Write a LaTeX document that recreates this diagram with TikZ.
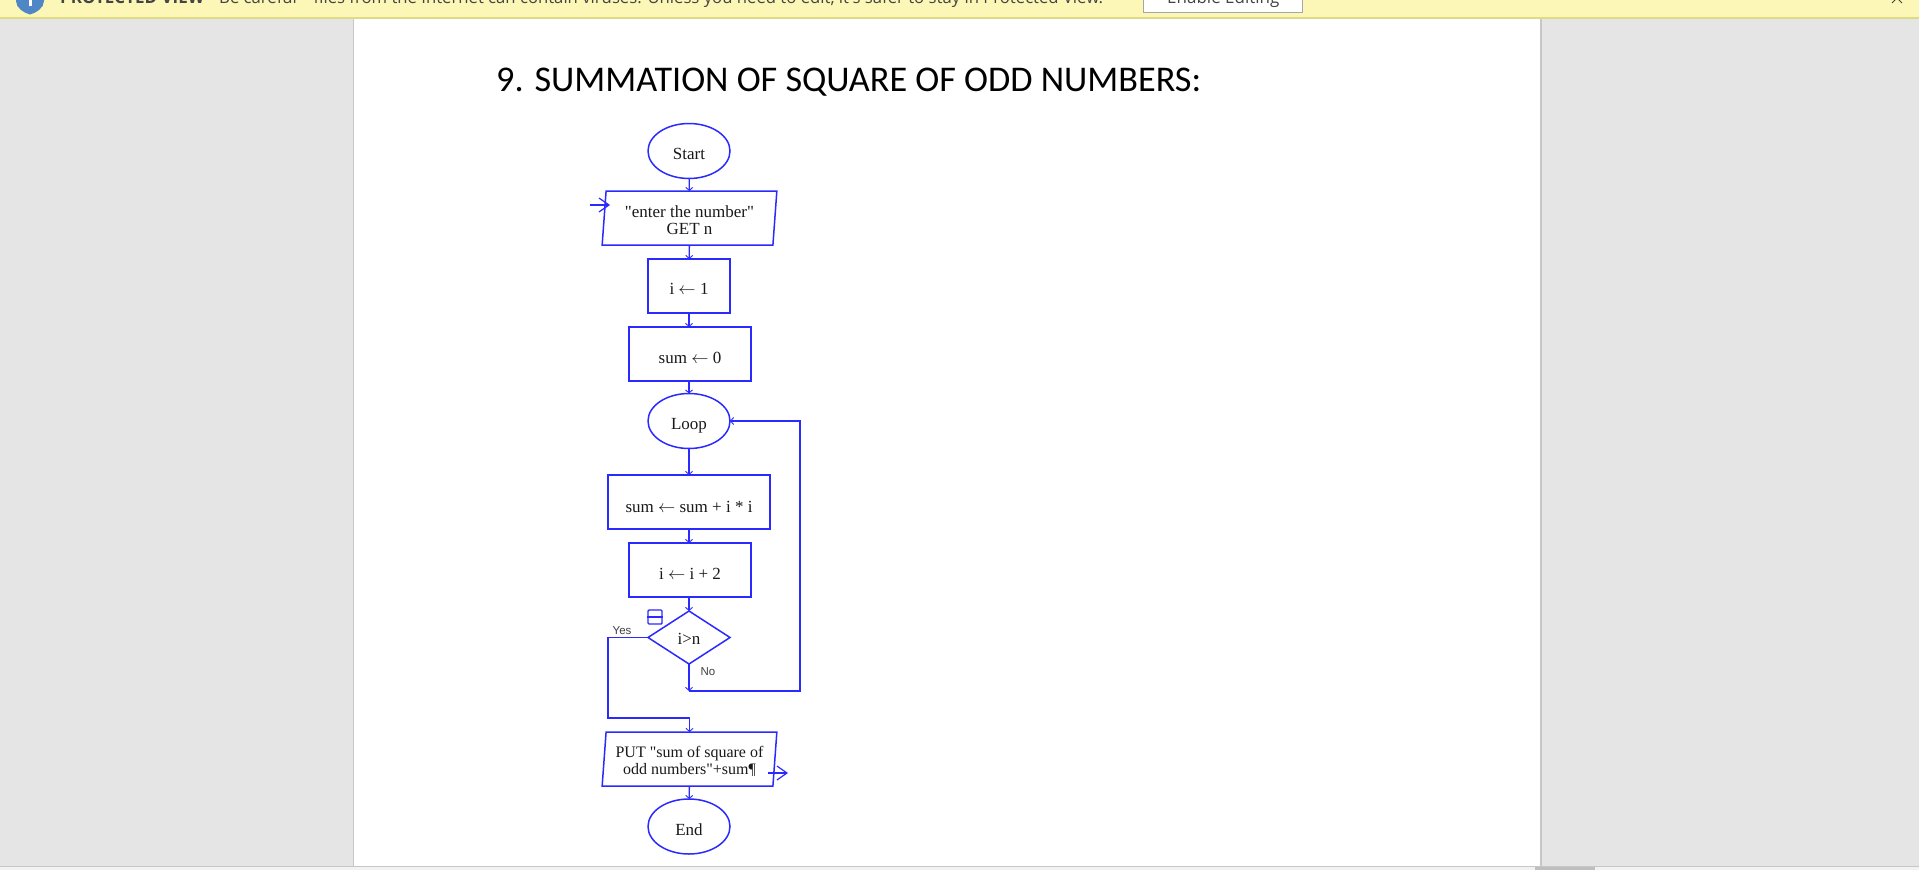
\documentclass[tikz,border=0pt]{standalone}
\usepackage{fontspec}
\newfontfamily\flowfont{Liberation Serif}
\newfontfamily\titlefont{Carlito}
\newfontfamily\uifont{Open Sans}
\newfontfamily\labelfont{Liberation Sans}
\usetikzlibrary{shapes.geometric,arrows.meta}
\definecolor{fc}{HTML}{2A2AFF}
\definecolor{pagegray}{HTML}{E5E5E5}
\definecolor{banner}{HTML}{FCF7B6}
\definecolor{bannerline}{HTML}{DEDB82}
\definecolor{uitext}{HTML}{444444}
\definecolor{shield}{HTML}{4F86C6}
\tikzset{
  base/.style={draw=fc,line width=1.5pt,inner sep=0pt,outer sep=0pt,align=center,font=\flowfont\fontsize{17}{17}\selectfont,text=black!90},
  term/.style={base,ellipse,minimum width=82pt,minimum height=55pt},
  proc/.style={base,rectangle,minimum height=54pt},
  io/.style={base,trapezium,trapezium left angle=81.5,trapezium right angle=98.5,trapezium stretches=true,minimum width=175pt,minimum height=54pt},
  decide/.style={base,diamond,minimum width=82pt,minimum height=53pt},
  conn/.style={draw=fc,line width=1.4pt,-{Straight Barb[length=3pt,width=7pt,line width=.9pt]}},
  plainconn/.style={draw=fc,line width=1.4pt},
  bigconn/.style={draw=fc,line width=1.4pt,-{Straight Barb[length=10pt,width=14pt,line width=1.2pt]}},
  small/.style={font=\labelfont\fontsize{11.5}{13}\selectfont,text=black!75,inner sep=0pt},
  ui/.style={font=\uifont\fontsize{17}{20}\selectfont,text=uitext,inner sep=0pt,anchor=base west}
}
% one line whose baseline lies #1 below the centre of its node
\newcommand{\low}[2]{\raisebox{-#1}[0pt][0pt]{#2}}
% two lines, the last baseline #1 below the centre of the node
\newcommand{\two}[3]{\raisebox{-#1}[12pt][12pt]{\parbox[b]{152pt}{\centering\baselineskip=17pt #2\\#3}}}
\begin{document}
\begin{tikzpicture}[x=1pt,y=-1pt]
\useasboundingbox (0,0) rectangle (1919,870);
\clip (0,0) rectangle (1919,870);
% window background and page
\fill[pagegray] (0,0) rectangle (1919,870);
\fill[white] (353,18) rectangle (1541,866);
\draw[black!22,line width=1pt] (353,18) -- (353,866);
\draw[black!22,line width=1.3pt] (1541,18) -- (1541,866);
\fill[black!5] (0,866) rectangle (1919,870);
\draw[black!22,line width=1pt] (0,866) -- (1919,866);
\fill[black!25] (1535,866.5) rectangle (1595,870);
% protected view banner
\fill[banner] (0,0) rectangle (1919,18);
\draw[bannerline,line width=1.2pt] (0,18) -- (1919,18);
\fill[shield] (16,-4) -- (44,-4) -- (44,1) .. controls (44,8) and (36,13) .. (30,14.5) .. controls (24,13) and (16,8) .. (16,1) -- cycle;
\fill[white] (28.5,-4) rectangle (31.5,6);
\node[ui,font=\uifont\bfseries\fontsize{17}{20}\selectfont] (pv) at (60,4) {PROTECTED VIEW};
\node[ui,font=\uifont\fontsize{16.7}{20}\selectfont] (bc) at (219,4) {Be careful—files from the Internet can contain viruses. Unless you need to edit, it's safer to stay in Protected View.};
\node[draw=black!35,fill=white,line width=1pt,minimum width=159pt,minimum height=24pt] (btn) at (1222.5,0) {};
\node[ui] (en) at (1167,4) {Enable Editing};
\draw[uitext,line width=1pt] (1892,3) -- (1897,-2) -- (1902,3);
% title
\node[font=\titlefont\fontsize{36.2}{40}\selectfont,anchor=base west,inner sep=0pt,text=black] (title) at (496,91) {9. SUMMATION OF SQUARE OF ODD NUMBERS:};
% flowchart nodes
\node[term] (start) at (689,151) {\low{8pt}{Start}};
\node[io] (get) at (689.5,218) {\two{16pt}{"enter the number"}{GET n}};
\node[proc,minimum width=82pt] (i1) at (689,286) {\low{8pt}{i $\leftarrow$ 1}};
\node[proc,minimum width=122pt] (s0) at (690,354) {\low{9pt}{sum $\leftarrow$ 0}};
\node[term] (loop) at (689,421) {\low{8pt}{Loop}};
\node[proc,minimum width=162pt] (s1) at (689,502) {\low{10pt}{sum $\leftarrow$ sum + i * i}};
\node[proc,minimum width=122pt] (i2) at (690,570) {\low{9pt}{i $\leftarrow$ i + 2}};
\node[decide] (dec) at (689,637.5) {\low{6.5pt}{i>n}};
\node[io] (put) at (689.5,759) {\fontsize{16}{17}\selectfont\two{15pt}{PUT "sum of square of}{odd numbers"+sum¶}};
\node[term] (stop) at (689,826.5) {\low{8.5pt}{End}};
\node[small] (yes) at (622,631) {Yes};
\node[small] (no) at (708,671.5) {No};
% small decision marker
\node[draw=fc,line width=1.4pt,rounded corners=1pt,minimum width=14pt,minimum height=14pt,inner sep=0pt] (mark) at (655,617) {};
\draw[plainconn] (mark.west) -- (mark.east);
% helper points
\coordinate (inA) at (590,205);
\coordinate (inB) at (610,205);
\coordinate (outA) at (768,773);
\coordinate (outB) at (788,773);
\coordinate (yesC) at (608,718);
\coordinate (noC) at (689,691);
\coordinate (noR) at (800,691);
% connectors
\draw[conn] (start) -- (get);
\draw[conn] (get) -- (i1);
\draw[conn] (i1) -- (i1 |- s0.north);
\draw[conn] (i1 |- s0.south) -- (loop);
\draw[conn] (loop) -- (loop |- s1.north);
\draw[conn] (loop |- s1.south) -- (loop |- i2.north);
\draw[conn] (loop |- i2.south) -- (dec);
\draw[conn] (dec.west) -| (yesC) -| (put);
\draw[conn] (dec) -- (noC);
\draw[conn] (noC) -- (noR) |- (loop.east);
\draw[conn] (put) -- (stop);
\draw[bigconn] (inA) -- (inB);
\draw[bigconn] (outA) -- (outB);
\end{tikzpicture}
\end{document}
